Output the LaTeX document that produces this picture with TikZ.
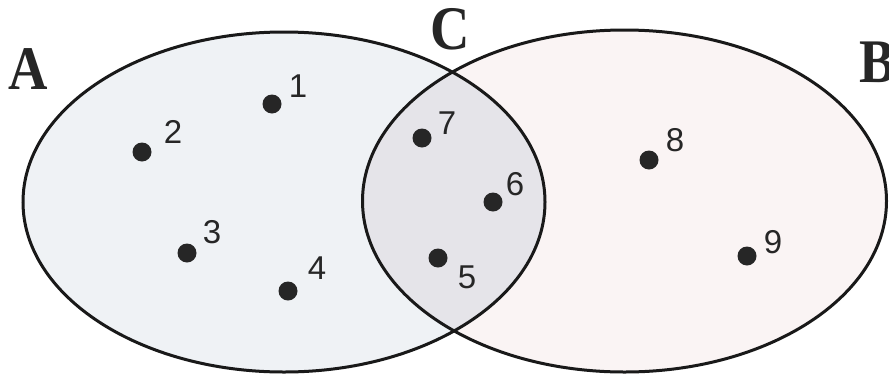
\documentclass[tikz,border=0pt]{standalone}
\usepackage{fontspec}
\setmainfont{Liberation Serif}
\newfontfamily\digitfont{Liberation Sans}

\definecolor{setA}{RGB}{239,242,245}
\definecolor{setB}{RGB}{250,244,244}
\definecolor{setC}{RGB}{229,228,233}

\begin{document}
\begin{tikzpicture}[x=1pt, y=-1pt,
    dot/.style={circle, fill=black!85, inner sep=0pt, minimum size=19pt},
    num/.style={font=\digitfont\fontsize{33}{38}\selectfont, inner sep=0pt, text=black!85},
    setname/.style={font=\bfseries\fontsize{62}{70}\selectfont, inner sep=0pt, xscale=0.88, text=black!85}]
    \useasboundingbox (0,0) rectangle (889,378);
    \fill[white] (0,0) rectangle (889,378);
    % fills of the two sets and of their overlap
    \fill[setA] (284,202) ellipse [x radius=261pt, y radius=170pt];
    \fill[setB] (624.5,201) ellipse [x radius=262pt, y radius=171pt];
    \begin{scope}
        \clip (284,202) ellipse [x radius=261pt, y radius=170pt];
        \fill[setC] (624.5,201) ellipse [x radius=262pt, y radius=171pt];
    \end{scope}
    % outlines
    \draw[line width=3pt, black!90] (284,202) ellipse [x radius=261pt, y radius=170pt];
    \draw[line width=3pt, black!90] (624.5,201) ellipse [x radius=262pt, y radius=171pt];

    % names of the sets
    \node[setname] (nameA) at (28,69) {A};
    \node[setname] (nameC) at (450,29) {C};
    \node[setname, anchor=west] (nameB) at (859,62) {B};

    % elements
    \node[dot] (d1) at (272,104) {};
    \node[dot] (d2) at (142,152) {};
    \node[dot] (d3) at (187,253) {};
    \node[dot] (d4) at (288,291) {};
    \node[dot] (d5) at (438,258) {};
    \node[dot] (d6) at (493,202) {};
    \node[dot] (d7) at (422,138) {};
    \node[dot] (d8) at (649,160) {};
    \node[dot] (d9) at (747,256) {};

    \node[num] (n1) at (298,86) {1};
    \node[num] (n2) at (173,132) {2};
    \node[num] (n3) at (212,232) {3};
    \node[num] (n4) at (317,268) {4};
    \node[num] (n5) at (467,277) {5};
    \node[num] (n6) at (515,184) {6};
    \node[num] (n7) at (447,123) {7};
    \node[num] (n8) at (675,140) {8};
    \node[num] (n9) at (773,242) {9};
\end{tikzpicture}
\end{document}
